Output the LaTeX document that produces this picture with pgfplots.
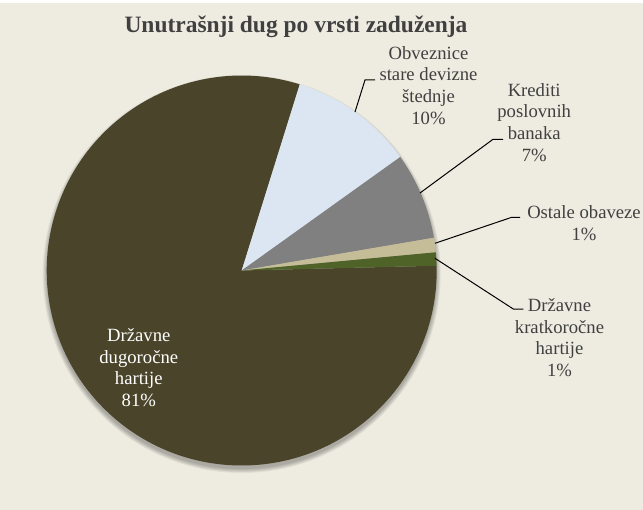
\documentclass[border=0pt]{standalone}
\usepackage{fontspec}
\setmainfont{Liberation Serif}
\usepackage{pgfplots}
\pgfplotsset{compat=1.18}
\definecolor{bg}{RGB}{238,236,225}
\definecolor{cbrown}{RGB}{74,69,42}
\definecolor{cblue}{RGB}{220,230,242}
\definecolor{cgrey}{RGB}{128,128,128}
\definecolor{ctan}{RGB}{196,189,151}
\definecolor{cgreen}{RGB}{79,98,40}
\definecolor{ctext}{RGB}{64,64,64}
\begin{document}
\begin{tikzpicture}
% shares (percent), clockwise from the start angle
\def\sA{80.2}% Drzavne dugorocne hartije
\def\sB{10.3}% Obveznice stare devizne stednje
\def\sC{7.2}%  Krediti poslovnih banaka
\def\sD{1.2}%  Ostale obaveze
\def\sE{1.1}%  Drzavne kratkorocne hartije
\def\startang{1.4}
\pgfmathsetmacro\aA{\startang}
\pgfmathsetmacro\aB{\aA-3.6*\sA}
\pgfmathsetmacro\aC{\aB-3.6*\sB}
\pgfmathsetmacro\aD{\aC-3.6*\sC}
\pgfmathsetmacro\aE{\aD-3.6*\sD}
\def\R{146.25pt}
\begin{axis}[scale only axis, width=482.25pt, height=382.5pt,
  xmin=0, xmax=643, ymin=0, ymax=510, y dir=reverse,
  hide axis, clip=false]
\fill[white] (axis cs:0,0) rectangle (axis cs:643,510);
\fill[bg] (axis cs:0,3) rectangle (axis cs:643,510);
% soft shadow
\fill[black, opacity=0.05] (axis cs:241.7,274) circle[radius=146.25pt];
\fill[black, opacity=0.05] (axis cs:241.7,274) circle[radius=146.85pt];
\fill[black, opacity=0.05] (axis cs:241.7,274) circle[radius=147.45pt];
\fill[black, opacity=0.05] (axis cs:241.7,274) circle[radius=148.05pt];
\fill[black, opacity=0.05] (axis cs:241.7,274) circle[radius=148.65pt];
\fill[black, opacity=0.05] (axis cs:241.7,274) circle[radius=149.25pt];
% slices
\fill[cbrown] (axis cs:241.7,270.5) -- ++(\aA:\R) arc[start angle=\aA, delta angle={-3.6*\sA}, radius=\R] -- cycle;
\fill[cblue] (axis cs:241.7,270.5) -- ++(\aB:\R) arc[start angle=\aB, delta angle={-3.6*\sB}, radius=\R] -- cycle;
\fill[cgrey] (axis cs:241.7,270.5) -- ++(\aC:\R) arc[start angle=\aC, delta angle={-3.6*\sC}, radius=\R] -- cycle;
\fill[ctan] (axis cs:241.7,270.5) -- ++(\aD:\R) arc[start angle=\aD, delta angle={-3.6*\sD}, radius=\R] -- cycle;
\fill[cgreen] (axis cs:241.7,270.5) -- ++(\aE:\R) arc[start angle=\aE, delta angle={-3.6*\sE}, radius=\R] -- cycle;
% leader lines
\draw[black, line width=0.75pt] (axis cs:355,112) -- (axis cs:365,80) -- (axis cs:375,80);
\draw[black, line width=0.75pt] (axis cs:420,193) -- (axis cs:493,139.3) -- (axis cs:503,139.3);
\draw[black, line width=0.75pt] (axis cs:435,243.3) -- (axis cs:511.7,217.3) -- (axis cs:520,217.3);
\draw[black, line width=0.75pt] (axis cs:435,258.3) -- (axis cs:513.3,309) -- (axis cs:523.3,309);
% title
\node[text=ctext, font=\fontsize{17.6}{21}\selectfont\bfseries, anchor=base] at (axis cs:296,32.3) {Unutrašnji dug po vrsti zaduženja};
% labels
\tikzset{lbl/.style={text=ctext, align=center, font=\fontsize{14}{16.3}\selectfont, inner sep=0pt}}
\node[lbl] at (axis cs:428.5,85.5) {Obveznice\\stare devizne\\štednje\\10\%};
\node[lbl] at (axis cs:534.2,122.5) {Krediti\\poslovnih\\banaka\\7\%};
\node[lbl] at (axis cs:584,223.5) {Ostale obaveze\\1\%};
\node[lbl] at (axis cs:559.5,337.5) {Državne\\kratkoročne\\hartije\\1\%};
\node[lbl, text=white] at (axis cs:138.8,367.5) {Državne\\dugoročne\\hartije\\81\%};
\end{axis}
\end{tikzpicture}
\end{document}
